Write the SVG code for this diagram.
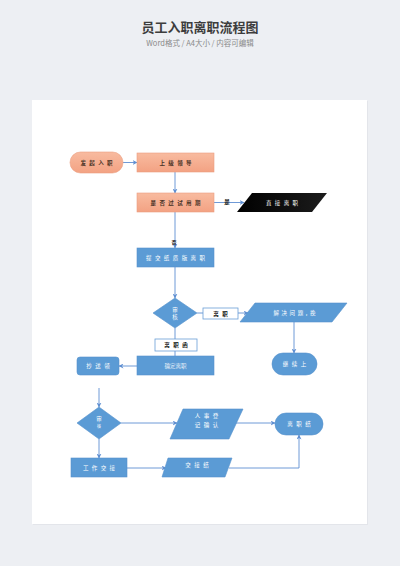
<svg xmlns="http://www.w3.org/2000/svg" width="400" height="566" viewBox="0 0 400 566">
<style>
.t{font-family:"Noto Sans CJK SC","Noto Sans",sans-serif;}
.title{font-size:13px;font-weight:bold;fill:#3d3d3d;text-anchor:middle;}
.sub{font-size:7.5px;fill:#8a8a8a;text-anchor:middle;}
.sal{fill:url(#gs);stroke:#eb9d80;stroke-width:0.6;}
.blue{fill:#5b9bd5;stroke:#5792cc;stroke-width:0.6;}
.lbl{fill:#ffffff;stroke:#6a9fd6;stroke-width:0.8;}
.nt{font-size:5.5px;letter-spacing:3.4px;text-anchor:middle;dominant-baseline:central;}
.dk{fill:#4a3226;font-weight:bold;}
.wh{fill:#ffffff;}
.bk{fill:#111111;font-weight:bold;}
.c{fill:none;stroke:#5f8fd2;stroke-width:0.9;}
.ca{marker-end:url(#ah);}
.cl{font-size:5.5px;fill:#222;font-weight:bold;text-anchor:middle;dominant-baseline:central;}
</style>
<defs>
<linearGradient id="gs" x1="0" y1="0" x2="0" y2="1">
<stop offset="0" stop-color="#f8bba0"/>
<stop offset="1" stop-color="#f3a283"/>
</linearGradient>
<linearGradient id="gk" x1="0" y1="0" x2="1" y2="0">
<stop offset="0" stop-color="#000000"/>
<stop offset="1" stop-color="#1c1c1c"/>
</linearGradient>
<marker id="ah" viewBox="0 0 10 10" refX="9" refY="5" markerWidth="5" markerHeight="5" orient="auto" markerUnits="userSpaceOnUse">
<path d="M0,0 L10,5 L0,10 L3,5 Z" fill="#5f8fd2"/>
</marker>
</defs>
<rect x="0" y="0" width="400" height="566" fill="#edeff3"/>
<text class="t title" x="200" y="32">员工入职离职流程图</text>
<text class="t sub" x="200" y="45.5">Word格式 / A4大小 / 内容可编辑</text>
<rect x="33" y="101" width="335" height="424" fill="#e3e5ea"/>
<rect x="32" y="100" width="335" height="424" fill="#ffffff"/>

<g id="connectors">
<path class="c ca" d="M123,162.5 H137"/>
<path class="c ca" d="M175,172 V193"/>
<path class="c ca" d="M214,202.5 H244"/>
<path class="c ca" d="M175,212 V248"/>
<path class="c ca" d="M175,267 V298"/>
<path class="c" d="M197,313 H203"/>
<path class="c ca" d="M238,313 H248"/>
<path class="c ca" d="M294,322 V353"/>
<path class="c" d="M175,328 V339"/>
<path class="c" d="M175,351 V356"/>
<path class="c ca" d="M137,366 H119"/>
<path class="c ca" d="M99,388 V407"/>
<path class="c ca" d="M121,423 H177"/>
<path class="c ca" d="M236,423 H275"/>
<path class="c ca" d="M99,439 V458"/>
<path class="c ca" d="M127,468 H166"/>
<path class="c ca" d="M229,468 H299 V435"/>
<text class="t cl" x="227" y="202">是</text>
<text class="t cl" x="174" y="241" style="font-size:5px">否</text>
</g>

<g id="n1">
<rect class="sal" x="70" y="152" width="53" height="21" rx="10.5"/>
<text class="t nt dk" x="98.2" y="162.5">发起入职</text>
</g>
<g id="n2">
<rect class="sal" x="137" y="153" width="77" height="19"/>
<text class="t nt dk" x="177.2" y="162.5">上级领导</text>
</g>
<g id="n3">
<rect class="sal" x="137" y="193" width="77" height="19"/>
<text class="t nt dk" x="177.2" y="202.5">是否过试用期</text>
</g>
<g id="n4">
<polygon points="252,193 327,193 312,212 237,212" fill="url(#gk)"/>
<text class="t nt wh" x="283.7" y="202.5">直接离职</text>
</g>
<g id="n5">
<rect class="blue" x="137" y="248" width="77" height="19"/>
<text class="t nt wh" x="177.2" y="257.5">提交纸质版离职</text>
</g>
<g id="n6">
<polygon class="blue" points="175,298 197,313 175,328 153,313"/>
<text class="t wh" x="175" y="310" style="font-size:5.5px;text-anchor:middle;dominant-baseline:central">审</text>
<text class="t wh" x="175" y="317" style="font-size:5.5px;text-anchor:middle;dominant-baseline:central">核</text>
</g>
<g id="n7">
<rect class="lbl" x="203" y="308" width="35" height="11"/>
<text class="t nt bk" x="222.2" y="313.5">离职</text>
</g>
<g id="n8">
<polygon class="blue" points="255,303 347,303 332,322 240,322"/>
<text class="t nt wh" x="295.7" y="312.5" style="letter-spacing:2.6px">解决问题,挽</text>
</g>
<g id="n9">
<rect class="blue" x="272" y="353" width="45" height="22" rx="11"/>
<text class="t nt wh" x="296.2" y="364">继续上</text>
</g>
<g id="n10">
<rect class="lbl" x="155" y="339" width="42" height="12"/>
<text class="t nt bk" x="177.7" y="345">离职函</text>
</g>
<g id="n11">
<rect class="blue" x="137" y="356" width="77" height="19"/>
<text class="t wh" x="175.5" y="365.5" style="font-size:5.5px;text-anchor:middle;dominant-baseline:central;opacity:0.85">确定离职</text>
</g>
<g id="n12">
<rect class="blue" x="77" y="357" width="42" height="18" rx="3"/>
<text class="t nt wh" x="99.7" y="366">抄送领</text>
</g>
<g id="n13">
<polygon class="blue" points="99,407 121,423 99,439 77,423"/>
<text class="t wh" x="99" y="419" style="font-size:5.5px;text-anchor:middle;dominant-baseline:central">审</text>
<text class="t wh" x="99" y="426" style="font-size:4px;text-anchor:middle;dominant-baseline:central">核</text>
</g>
<g id="n14">
<polygon class="blue" points="183,409 243,409 229,439 170,439"/>
<text class="t nt wh" x="208.2" y="416">人事登</text>
<text class="t nt wh" x="208.2" y="425">记确认</text>
</g>
<g id="n15">
<rect class="blue" x="275" y="413" width="48" height="22" rx="11"/>
<text class="t nt wh" x="300.7" y="424">离职结</text>
</g>
<g id="n16">
<rect class="blue" x="71" y="458" width="56" height="19"/>
<text class="t nt wh" x="100.7" y="467.5">工作交接</text>
</g>
<g id="n17">
<polygon class="blue" points="168,458 232,458 225,477 162,477"/>
<text class="t nt wh" x="198.7" y="465">交接结</text>
</g>
</svg>
